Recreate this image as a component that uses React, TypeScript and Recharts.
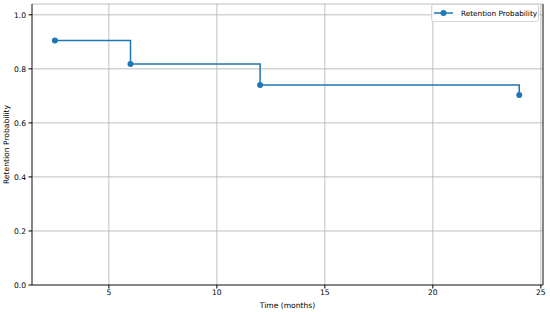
import React from "react";
import {
  LineChart,
  Line,
  XAxis,
  YAxis,
  CartesianGrid,
  ReferenceLine,
} from "recharts";

const months = [2.5, 6, 12, 24];
const retention = [0.905, 0.818, 0.74, 0.703];
const xTicks = [5, 10, 15, 20, 25];
const yTicks = [0, 0.2, 0.4, 0.6, 0.8, 1.0];
const seriesName = "Retention Probability";

const data = months.map((m, i) => ({ t: m, p: retention[i] }));

const FONT = "DejaVu Sans, sans-serif";
const FS = 7.6;
const LEGEND_FS = 7.3;

const LegendBox = () => (
  <svg
    width={550}
    height={30}
    style={{ position: "absolute", left: 0, top: 0, pointerEvents: "none" }}
  >
    <rect x={431.5} y={4.5} width={107} height={17} rx={2} fill="rgba(255,255,255,0.8)" stroke="#d5d5d5" strokeWidth={1} />
    <line x1={434} y1={13} x2={453} y2={13} stroke="#1f77b4" strokeWidth={1.5} />
    <circle cx={443.5} cy={13} r={3} fill="#1f77b4" />
    <text x={461} y={15.8} fontFamily={FONT} fontSize={LEGEND_FS} fill="#000">
      {seriesName}
    </text>
  </svg>
);

export default function App() {
  return (
    <div style={{ position: "absolute", left: 0, top: 0, width: 550, height: 312, background: "#fff" }}>
      <LineChart
        width={550}
        height={312}
        data={data}
        margin={{ top: 4, right: 7, left: 0, bottom: 0 }}
      >
        <CartesianGrid stroke="#b0b0b0" strokeWidth={0.8} />
        <XAxis
          dataKey="t"
          type="number"
          domain={[1.44, 25.1]}
          ticks={xTicks}
          allowDataOverflow
          height={27}
          tickSize={3.5}
          tickMargin={1.5}
          stroke="#000"
          axisLine={{ stroke: "#000", strokeWidth: 0.8 }}
          tick={{ fontFamily: FONT, fontSize: FS, fill: "#000" }}
          label={{
            value: "Time (months)",
            position: "insideBottom",
            offset: 4,
            style: { fontFamily: FONT, fontSize: FS, fill: "#000" },
          }}
        />
        <YAxis
          type="number"
          domain={[0, 1.04]}
          ticks={yTicks}
          allowDataOverflow
          width={32}
          tickSize={3.5}
          tickMargin={2.5}
          stroke="#000"
          axisLine={{ stroke: "#000", strokeWidth: 0.8 }}
          tickFormatter={(v: number) => v.toFixed(1)}
          tick={{ fontFamily: FONT, fontSize: FS, fill: "#000" }}
          label={{
            value: "Retention Probability",
            angle: -90,
            position: "insideLeft",
            offset: 6,
            style: { fontFamily: FONT, fontSize: FS, fill: "#000", textAnchor: "middle" },
          }}
        />
        <ReferenceLine x={25.1} stroke="#000" strokeWidth={0.8} />
        <Line
          type="stepAfter"
          dataKey="p"
          name={seriesName}
          stroke="#1f77b4"
          strokeWidth={1.5}
          dot={{ r: 3, fill: "#1f77b4", stroke: "#1f77b4", strokeWidth: 0 }}
          activeDot={false}
          isAnimationActive={false}
        />
      </LineChart>
      <LegendBox />
    </div>
  );
}
